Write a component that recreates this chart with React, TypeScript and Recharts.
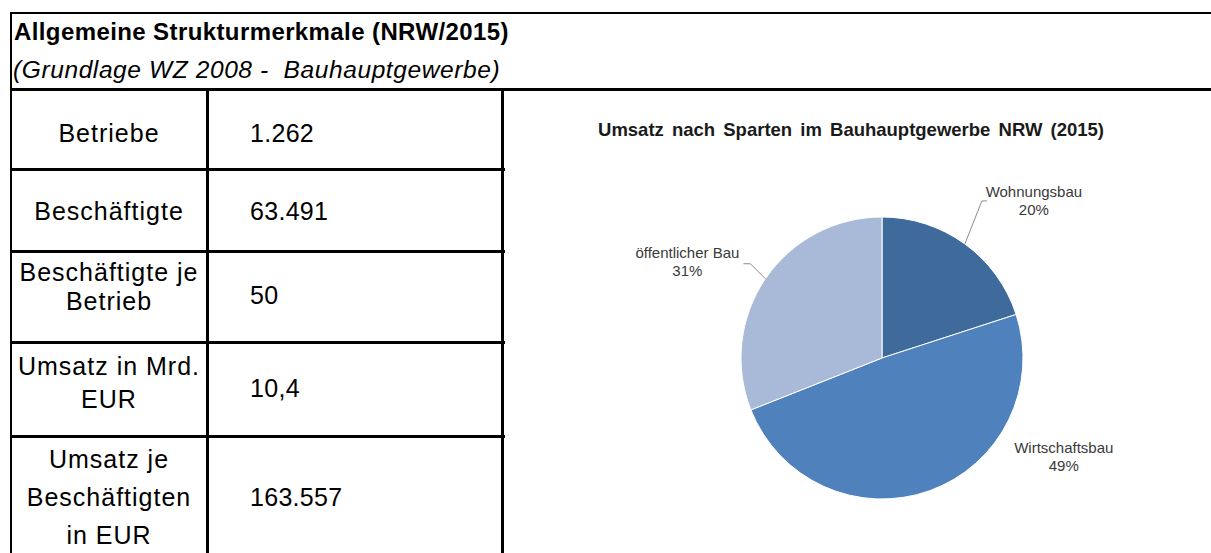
import React from 'react';
import { PieChart, Pie, Cell } from 'recharts';

// table content
const merkmale = [
  'Betriebe',
  'Beschäftigte',
  'Beschäftigte je\nBetrieb',
  'Umsatz in Mrd.\nEUR',
  'Umsatz je\nBeschäftigten\nin EUR',
];
const werte = ['1.262', '63.491', '50', '10,4', '163.557'];

// pie content
const sparten = ['Wohnungsbau', 'Wirtschaftsbau', 'öffentlicher Bau'];
const anteile = [20, 49, 31];
const farben = ['#3F6A9C', '#4F81BD', '#A8BAD8'];

const pieData = sparten.map((name, i) => ({ name, value: anteile[i] }));

// row bands of the table: top, height, text line height, upward shift of label / value
const rowBands = [
  { top: 91, height: 78, lh: 30, up: -3, upVal: -3 },
  { top: 171, height: 80, lh: 30, up: 0, upVal: 0 },
  { top: 253, height: 88, lh: 29, up: 10, upVal: 2 },
  { top: 344, height: 88, lh: 33, up: 5, upVal: 0 },
  { top: 438, height: 118, lh: 38, up: 0, upVal: 0 },
];
const rowLines = [168, 250, 341, 435];

const RADIAN = Math.PI / 180;

// label offsets relative to the point on the slice's outer edge
const labelLayout = [
  { dx: 69, dy: -52, lead: [17, -43], tick: 5 },
  { dx: 134, dy: -43, lead: null as number[] | null, tick: 0 },
  { dx: -78, dy: -26, lead: [-15, -15], tick: -7 },
];

function renderLabel(props: any) {
  const { cx, cy, midAngle, outerRadius, index, name, value } = props;
  const ex = cx + outerRadius * Math.cos(-midAngle * RADIAN);
  const ey = cy + outerRadius * Math.sin(-midAngle * RADIAN);
  const l = labelLayout[index];
  const tx = ex + l.dx;
  const ty = ey + l.dy + 5;
  return (
    <g key={name}>
      {l.lead && (
        <polyline
          points={`${ex},${ey} ${ex + l.lead[0]},${ey + l.lead[1]} ${ex + l.lead[0] + l.tick},${ey + l.lead[1]}`}
          fill="none"
          stroke="#8c8c8c"
          strokeWidth={1}
        />
      )}
      <text
        x={tx}
        y={ty}
        textAnchor="middle"
        fontSize={15}
        fill="#3a3a3a"
        fontFamily="'Liberation Sans', Arial, sans-serif"
      >
        <tspan x={tx}>{name}</tspan>
        <tspan x={tx} dy={18}>
          {value}%
        </tspan>
      </text>
    </g>
  );
}

const line = (left: number, top: number, width: number, height: number) => (
  <div
    key={`${left}-${top}-${width}`}
    style={{ position: 'absolute', left, top, width, height, background: '#000' }}
  />
);

export default function App() {
  return (
    <div
      style={{
        position: 'absolute',
        left: 0,
        top: 0,
        width: 1211,
        height: 553,
        background: '#fff',
        overflow: 'hidden',
        fontFamily: "'Liberation Sans', Arial, sans-serif",
        color: '#000',
      }}
    >
      {line(10, 12, 1201, 2)}
      {line(10, 12, 2, 541)}
      {line(10, 88, 1201, 3)}
      {line(206, 88, 3, 465)}
      {line(501, 88, 3, 465)}
      {rowLines.map((y) => line(10, y, 495, 3))}

      <div
        style={{
          position: 'absolute',
          left: 14,
          top: 20,
          fontSize: 24,
          lineHeight: '24px',
          fontWeight: 'bold',
          letterSpacing: 0.4,
          whiteSpace: 'pre',
        }}
      >
        Allgemeine Strukturmerkmale (NRW/2015)
      </div>
      <div
        style={{
          position: 'absolute',
          left: 13,
          top: 58,
          fontSize: 24.5,
          lineHeight: '24px',
          fontStyle: 'italic',
          letterSpacing: 0.6,
          whiteSpace: 'pre',
        }}
      >
        (Grundlage WZ 2008 -  Bauhauptgewerbe)
      </div>

      {merkmale.map((m, i) => {
        const b = rowBands[i];
        return (
          <React.Fragment key={m}>
            <div
              style={{
                position: 'absolute',
                left: 12,
                top: b.top - b.up,
                width: 194,
                height: b.height,
                display: 'flex',
                alignItems: 'center',
                justifyContent: 'center',
                textAlign: 'center',
                whiteSpace: 'pre',
                fontSize: 25,
                letterSpacing: 1,
                lineHeight: `${b.lh}px`,
              }}
            >
              {m}
            </div>
            <div
              style={{
                position: 'absolute',
                left: 250,
                top: b.top - b.upVal,
                height: b.height,
                display: 'flex',
                alignItems: 'center',
                fontSize: 25,
                letterSpacing: 0.3,
              }}
            >
              {werte[i]}
            </div>
          </React.Fragment>
        );
      })}

      <div
        style={{
          position: 'absolute',
          left: 511,
          top: 120,
          width: 680,
          textAlign: 'center',
          fontSize: 18.5,
          lineHeight: '20px',
          fontWeight: 'bold',
          color: '#1a1a1a',
          wordSpacing: 3,
          whiteSpace: 'pre',
        }}
      >
        Umsatz nach Sparten im Bauhauptgewerbe NRW (2015)
      </div>

      <div style={{ position: 'absolute', left: 505, top: 92 }}>
        <PieChart width={706} height={461}>
          <Pie
            data={pieData}
            dataKey="value"
            nameKey="name"
            cx={372}
            cy={261}
            outerRadius={141}
            startAngle={90}
            endAngle={-270}
            stroke="#fff"
            strokeWidth={1}
            label={renderLabel}
            labelLine={false}
            isAnimationActive={false}
          >
            {pieData.map((d, i) => (
              <Cell key={d.name} fill={farben[i]} />
            ))}
          </Pie>
        </PieChart>
      </div>
    </div>
  );
}
